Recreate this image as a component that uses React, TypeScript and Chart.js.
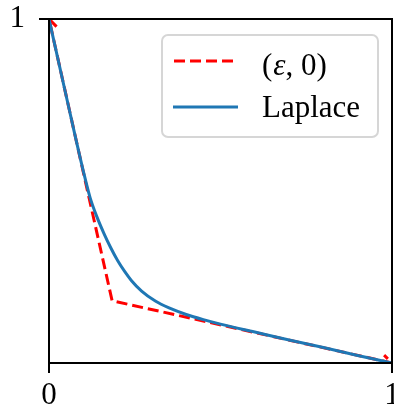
import React, { useEffect, useRef } from "react";
import { Chart, registerables } from "chart.js";
Chart.register(...registerables);

// (ε, 0) series
const epsX = [0.022, 0, 0.184, 1, 0.977];
const epsY = [0.978, 1, 0.181, 0, 0.023];
// Laplace series
const laplaceX = [0, 0.05, 0.1, 0.12, 0.14, 0.16, 0.18, 0.2, 0.22, 0.24, 0.27, 0.31, 0.35, 0.4, 0.45, 0.5, 0.6, 0.7, 0.8, 0.9, 1];
const laplaceY = [1, 0.777, 0.558, 0.48, 0.424, 0.377, 0.335, 0.298, 0.267, 0.24, 0.209, 0.18, 0.16, 0.141, 0.126, 0.113, 0.09, 0.067, 0.045, 0.022, 0];
const xTicks = [0, 1];
const yTicks = [1];
const seriesLabels = ["(ε, 0)", "Laplace"];

const FONT = '"Liberation Serif", "DejaVu Serif", serif';

const framePlugin = {
  id: "frameLegend",
  afterDraw(chart: any) {
    const { ctx, chartArea: a } = chart;
    ctx.save();
    // spines
    ctx.strokeStyle = "#000";
    ctx.lineWidth = 2;
    ctx.setLineDash([]);
    ctx.strokeRect(a.left, a.top, a.right - a.left, a.bottom - a.top);

    // legend box
    const lx = a.right - 230;
    const ly = a.top + 16;
    const lw = 216;
    const lh = 102;
    ctx.beginPath();
    ctx.roundRect(lx, ly, lw, lh, 6);
    ctx.fillStyle = "rgba(255,255,255,0.8)";
    ctx.fill();
    ctx.strokeStyle = "#d6d6d6";
    ctx.lineWidth = 2;
    ctx.stroke();

    // entry 1: dashed red
    ctx.strokeStyle = "#ff0000";
    ctx.lineWidth = 3;
    ctx.setLineDash([11, 5]);
    ctx.beginPath();
    ctx.moveTo(lx + 12, ly + 26);
    ctx.lineTo(lx + 75, ly + 26);
    ctx.stroke();
    // entry 2: solid blue
    ctx.strokeStyle = "#1f77b4";
    ctx.setLineDash([]);
    ctx.beginPath();
    ctx.moveTo(lx + 11, ly + 72);
    ctx.lineTo(lx + 76, ly + 72);
    ctx.stroke();

    ctx.fillStyle = "#000";
    ctx.textBaseline = "alphabetic";
    ctx.textAlign = "left";
    // "(ε, 0)" with italic epsilon
    const tx = lx + 100;
    const ty = ly + 40;
    const lab = seriesLabels[0];
    const parts = [lab.slice(0, 1), lab.slice(1, 2), lab.slice(2)];
    let cx = tx;
    ctx.font = `31px ${FONT}`;
    ctx.fillText(parts[0], cx, ty);
    cx += ctx.measureText(parts[0]).width + 1;
    ctx.font = `italic 31px ${FONT}`;
    ctx.fillText(parts[1], cx, ty);
    cx += ctx.measureText(parts[1]).width;
    ctx.font = `31px ${FONT}`;
    ctx.fillText(parts[2], cx, ty);

    ctx.fillText(seriesLabels[1], tx, ly + 82);
    ctx.restore();
  },
};

export default function App() {
  const ref = useRef<HTMLCanvasElement | null>(null);
  useEffect(() => {
    document.body.style.margin = "0";
    const canvas = ref.current;
    if (!canvas) return;
    const chart = new Chart(canvas, {
      type: "scatter",
      data: {
        datasets: [
          {
            label: seriesLabels[1],
            data: laplaceX.map((x, i) => ({ x, y: laplaceY[i] })),
            showLine: true,
            borderColor: "#1f77b4",
            borderWidth: 3,
            pointRadius: 0,
            cubicInterpolationMode: "monotone",
            order: 0,
          },
          {
            label: seriesLabels[0],
            data: epsX.map((x, i) => ({ x, y: epsY[i] })),
            showLine: true,
            borderColor: "#ff0000",
            borderWidth: 3,
            borderDash: [11, 5],
            pointRadius: 0,
            tension: 0,
            order: 1,
          },
        ],
      },
      options: {
        responsive: false,
        animation: false,
        devicePixelRatio: 1,
        layout: { padding: { top: 19, right: 2, left: 0, bottom: 0 } },
        plugins: { legend: { display: false }, tooltip: { enabled: false } },
        scales: {
          x: {
            type: "linear",
            min: 0,
            max: 1,
            border: { display: false },
            grid: {
              drawOnChartArea: false,
              drawTicks: true,
              tickLength: 10,
              tickWidth: 2,
              tickColor: "#000",
              color: "#000",
              lineWidth: 2,
            },
            ticks: {
              font: { family: FONT, size: 31 },
              color: "#000",
              padding: 4,
              maxRotation: 0,
              autoSkip: false,
            },
            afterBuildTicks: (s: any) => {
              s.ticks = xTicks.map((v) => ({ value: v }));
            },
            afterFit: (s: any) => {
              s.height = 46;
              s.paddingLeft = 0;
              s.paddingRight = 0;
            },
          },
          y: {
            type: "linear",
            min: 0,
            max: 1,
            border: { display: false },
            grid: {
              drawOnChartArea: false,
              drawTicks: true,
              tickLength: 10,
              tickWidth: 2,
              tickColor: "#000",
              color: "#000",
              lineWidth: 2,
            },
            ticks: {
              font: { family: FONT, size: 31 },
              color: "#000",
              padding: 14,
              autoSkip: false,
            },
            afterBuildTicks: (s: any) => {
              s.ticks = yTicks.map((v) => ({ value: v }));
            },
            afterFit: (s: any) => {
              s.width = 49;
              s.paddingTop = 0;
              s.paddingBottom = 0;
            },
          },
        },
      },
      plugins: [framePlugin],
    });
    return () => chart.destroy();
  }, []);
  return (
    <div style={{ width: 394, height: 409 }}>
      <canvas ref={ref} width={394} height={409} style={{ display: "block", width: 394, height: 409 }} />
    </div>
  );
}
